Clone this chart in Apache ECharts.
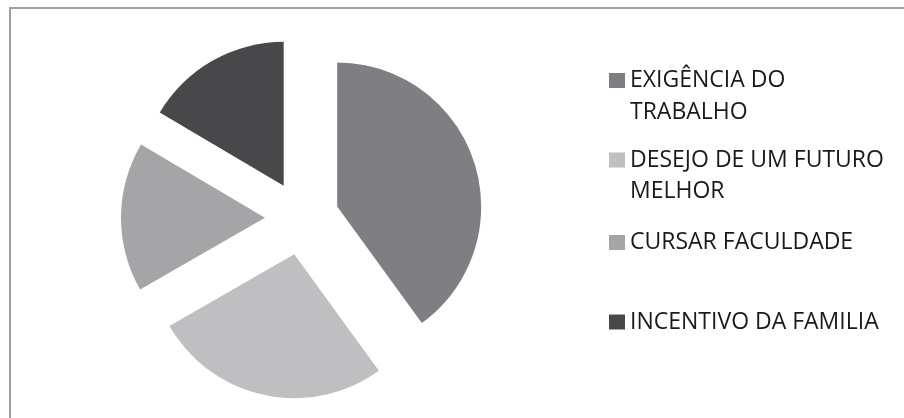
<!DOCTYPE html>
<html>
<head>
<meta charset="utf-8">
<script src="https://cdn.jsdelivr.net/npm/echarts@6/dist/echarts.min.js"></script>
<style>
  html, body { margin: 0; padding: 0; background: #ffffff; }
  #chart { width: 904px; height: 418px; }
</style>
</head>
<body>
<div id="chart"></div>
<script>
// Motivos (categorias) e valores de cada fatia
const categories = ['EXIGÊNCIA DO TRABALHO', 'DESEJO DE UM FUTURO MELHOR', 'CURSAR FACULDADE', 'INCENTIVO DA FAMILIA'];
const values = [40, 26.7, 16.8, 16.5];
const colors = ['#7f7f83', '#bfbfc1', '#a5a5a8', '#48484b'];
// Texto da legenda, quebrado em linhas
const legendLines = [
  ['EXIGÊNCIA DO', 'TRABALHO'],
  ['DESEJO DE UM FUTURO', 'MELHOR'],
  ['CURSAR FACULDADE'],
  ['INCENTIVO DA FAMILIA']
];

const FONT = '"Open Sans", "Noto Sans", sans-serif';
const FONT_SIZE = 23;
const LINE_H = 31.5;
const legendCenters = [80.5, 160, 242.5, 322];
const LEGEND_X = 609;
const TEXT_X = 630;

const chart = echarts.init(document.getElementById('chart'), null, { renderer: 'canvas' });

const legends = categories.map((name, i) => ({
  data: [name],
  left: LEGEND_X,
  top: legendCenters[i] - FONT_SIZE / 2,
  padding: 0,
  orient: 'vertical',
  selectedMode: false,
  icon: 'rect',
  itemWidth: 16,
  itemHeight: 15,
  formatter: () => legendLines[i][0],
  textStyle: { fontFamily: FONT, fontSize: FONT_SIZE, color: '#1a1a1a' }
}));

// Continuação das linhas quebradas da legenda
const extraText = [];
legendLines.forEach((lines, i) => {
  lines.slice(1).forEach((line, k) => {
    extraText.push({
      type: 'text',
      left: TEXT_X,
      top: legendCenters[i] + LINE_H * (k + 1) - FONT_SIZE / 2,
      style: {
        text: line,
        font: FONT_SIZE + 'px ' + FONT,
        fill: '#1a1a1a'
      }
    });
  });
});

chart.setOption({
  animation: false,
  color: colors,
  graphic: [
    {
      type: 'rect',
      shape: { x: 10, y: 8, width: 1200, height: 1200 },
      style: { fill: 'none', stroke: '#a0a0a0', lineWidth: 2 },
      silent: true
    }
  ].concat(extraText),
  legend: legends,
  series: [{
    type: 'pie',
    center: [302, 218],
    radius: [0, 144],
    startAngle: 90,
    clockwise: true,
    selectedMode: 'multiple',
    selectedOffset: 37,
    silent: true,
    label: { show: false },
    labelLine: { show: false },
    itemStyle: { borderWidth: 0 },
    emphasis: { disabled: true },
    data: categories.map((name, i) => ({ name: name, value: values[i], selected: true }))
  }]
});
</script>
</body>
</html>
